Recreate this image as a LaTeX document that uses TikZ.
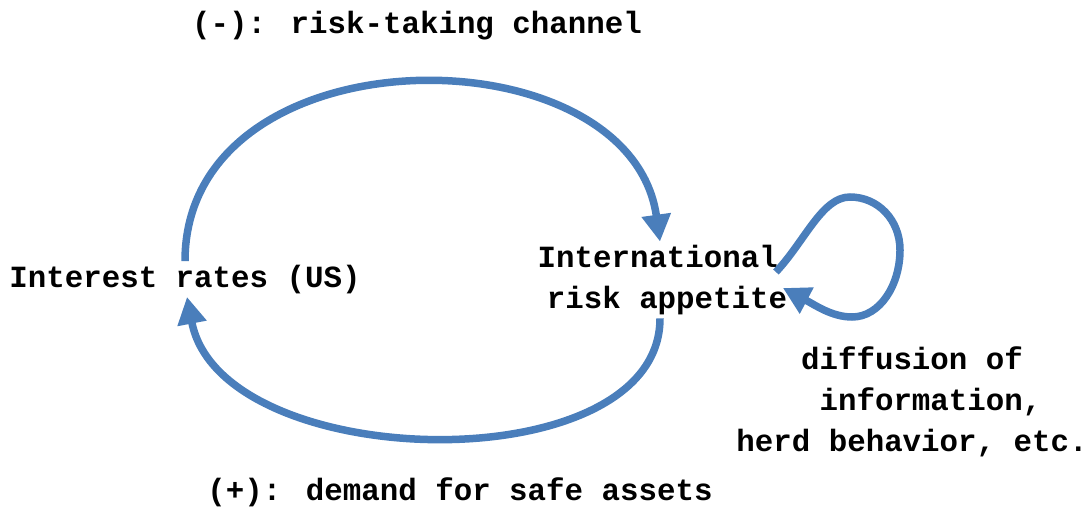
\documentclass[tikz,border=0pt]{standalone}
\usepackage{fontspec}
\newfontfamily\monofont{Liberation Mono}
\usetikzlibrary{arrows.meta}
\definecolor{loopblue}{RGB}{74,126,187}
\tikzset{
  txt/.style={font=\monofont\bfseries\fontsize{30.8}{41}\selectfont, text=black},
  feedback/.style={draw=loopblue, line width=7.5pt, -{Triangle[length=27pt,width=28pt]}},
}

\begin{document}
\begin{tikzpicture}[x=1pt, y=1pt]

  \useasboundingbox (0,0) rectangle (1091,515);

  % Variaveis
  \node[txt, anchor=base] (rates) at (185,228) {Interest rates (US)};
  \node[txt, align=center] (appetite) at (667,235) {International\hphantom{x}\\risk appetite};

  % Canais
  \node[txt, anchor=base] (riskch) at (417,481) {(-): risk-taking channel};
  \node[txt, anchor=base] (safe) at (460,15) {(+): demand for safe assets};
  \node[txt, align=center] (herd) at (912,113) {diffusion of\\\hphantom{xx}information,\\herd behavior, etc.};

  % Setas
  \draw[feedback] (rates.north) .. controls (185,487) and (630,487) .. ([xshift=-7pt]appetite.north);
  \draw[feedback] ([xshift=-7pt]appetite.south) .. controls (660,31) and (221,40) .. ([xshift=2pt]rates.south);

  % Laco
  \draw[feedback] ([xshift=-24pt, yshift=8pt]appetite.east) .. controls (805,274) and (822,318) .. (850,318)
    .. controls (878,318) and (900,295) .. (900,265) .. controls (900,230) and (880,198) .. (852,198)
    .. controls (832,198) and (815,210) .. ([xshift=-17pt, yshift=-8pt]appetite.east);

\end{tikzpicture}
\end{document}
